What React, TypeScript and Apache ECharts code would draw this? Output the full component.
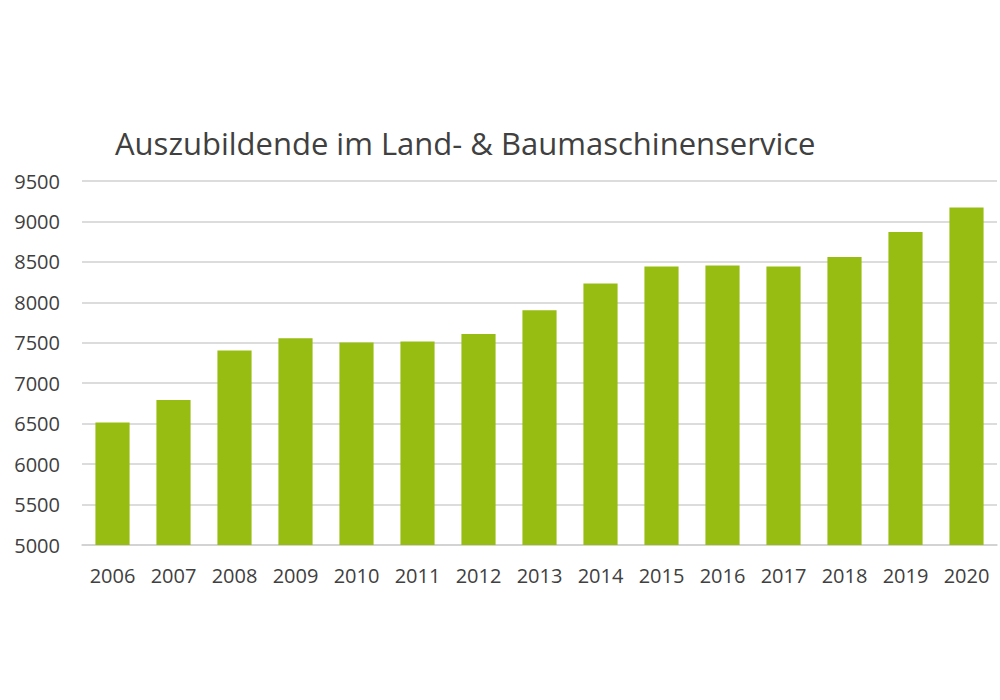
import React, { useEffect, useRef } from "react";
import * as echarts from "echarts";

const years = ["2006", "2007", "2008", "2009", "2010", "2011", "2012", "2013", "2014", "2015", "2016", "2017", "2018", "2019", "2020"];
const apprentices = [6513, 6794, 7404, 7557, 7503, 7515, 7610, 7903, 8233, 8443, 8456, 8443, 8559, 8868, 9173];
const titleText = "Auszubildende im Land- & Baumaschinenservice";

export default function App() {
  const ref = useRef<HTMLDivElement>(null);
  useEffect(() => {
    if (!ref.current) return;
    const chart = echarts.init(ref.current, undefined, { renderer: "svg" });
    chart.setOption({
      animation: false,
      backgroundColor: "#ffffff",
      title: {
        text: titleText,
        left: 110,
        top: 122,
        textStyle: { fontFamily: "Open Sans", fontSize: 31, fontWeight: "normal", color: "#404040" },
      },
      grid: { left: 82, right: 3, top: 181, bottom: 155 },
      xAxis: {
        type: "category",
        data: years,
        axisLine: { show: true, lineStyle: { color: "#d0d0d0", width: 1.5 } },
        axisTick: { show: false },
        axisLabel: { fontFamily: "Open Sans", fontSize: 20, color: "#404040", margin: 20 },
      },
      yAxis: {
        type: "value",
        min: 5000,
        max: 9500,
        interval: 500,
        axisLine: { show: false },
        axisTick: { show: false },
        splitLine: { lineStyle: { color: "#d0d0d0", width: 1.5 } },
        axisLabel: {
          fontFamily: "Open Sans",
          fontSize: 20,
          color: "#404040",
          margin: 22,
          formatter: (v: number) => String(v),
        },
      },
      series: [
        {
          type: "bar",
          data: apprentices,
          barWidth: "56%",
          itemStyle: { color: "#98bd12" },
        },
      ],
    });
    return () => chart.dispose();
  }, []);
  return <div ref={ref} style={{ position: "fixed", left: 0, top: 0, width: 1000, height: 700 }} />;
}
